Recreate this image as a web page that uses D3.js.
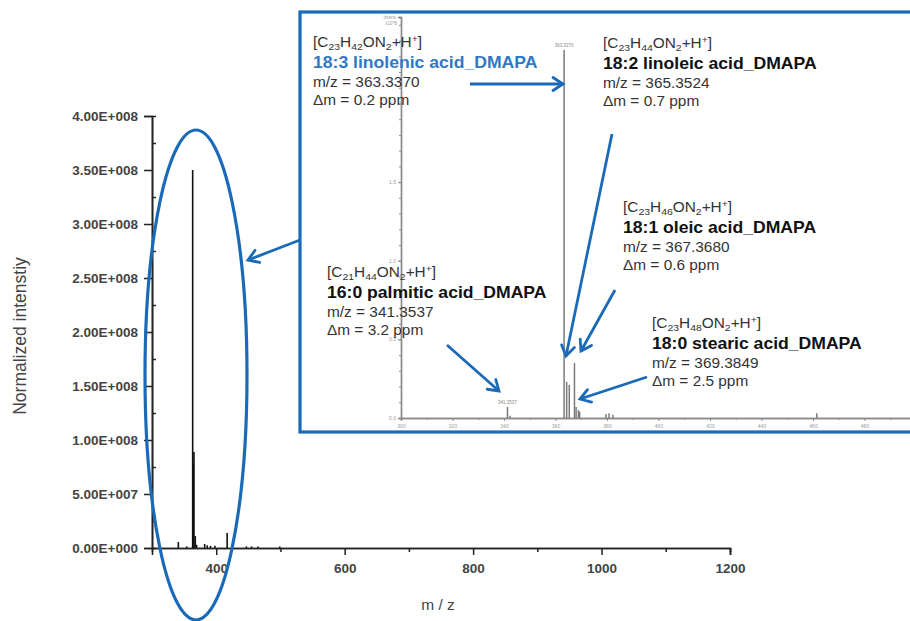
<!DOCTYPE html>
<html><head><meta charset="utf-8">
<script src="https://cdn.jsdelivr.net/npm/d3@7"></script>
<style>
html,body{margin:0;padding:0;background:#fff;}
svg{display:block;font-family:"Liberation Sans",Arial,sans-serif;}
</style></head>
<body><svg id="chart" width="910" height="621"></svg>
<script>
// ---------- data ----------
const mainMz = [341, 354, 363.34, 364.34, 365.35, 367.37, 369.38, 382, 386, 391, 398, 417, 447, 455, 465, 499];
const mainIntensity = [5.5e6, 1.5e6, 3.5e8, 7.8e7, 8.9e7, 1.1e7, 3e6, 3.7e6, 2.5e6, 2e6, 2e6, 1.4e7, 1.5e6, 1.5e6, 1.5e6, 1.5e6];
const mainXTicks = [400, 600, 800, 1000, 1200];
const mainXMinor = [500, 700, 900, 1100];
const mainYTicks = [0, 5e7, 1e8, 1.5e8, 2e8, 2.5e8, 3e8, 3.5e8, 4e8];
const mainYTickLabels = ["0.00E+000","5.00E+007","1.00E+008","1.50E+008","2.00E+008","2.50E+008","3.00E+008","3.50E+008","4.00E+008"];
const mainYMinor = [2.5e7, 7.5e7, 1.25e8, 1.75e8, 2.25e8, 2.75e8, 3.25e8, 3.75e8];

const insetMz = [341.35, 342.36, 363.34, 364.34, 365.35, 367.37, 368.0, 368.9, 369.38, 379.6, 380.8, 382.3, 461.5];
const insetIntensity = [0.07, 0.015, 2.34, 0.23, 0.21, 0.35, 0.07, 0.05, 0.04, 0.025, 0.03, 0.02, 0.03];
const insetXTicks = [300, 320, 340, 360, 380, 400, 420, 440, 460, 480];
const insetYTicks = [0, 0.5, 1.0, 1.5, 2.0];
const insetYTickLabels = ["0.0", "0.5", "1.0", "1.5", ""];
const peakLabels = [{mz: 363.34, v: 2.34, t: "363.3370"}, {mz: 341.35, v: 0.07, t: "341.3537"}];

const annotations = [
  {sub: ["23","42"], name: "18:3 linolenic acid_DMAPA", mz: "m/z = 363.3370", dm: "\u0394m = 0.2 ppm", blue: true, x: 313, y: 47},
  {sub: ["23","44"], name: "18:2 linoleic acid_DMAPA", mz: "m/z = 365.3524", dm: "\u0394m = 0.7 ppm", blue: false, x: 603, y: 48},
  {sub: ["23","46"], name: "18:1 oleic acid_DMAPA", mz: "m/z = 367.3680", dm: "\u0394m = 0.6 ppm", blue: false, x: 623, y: 212},
  {sub: ["21","44"], name: "16:0 palmitic acid_DMAPA", mz: "m/z = 341.3537", dm: "\u0394m = 3.2 ppm", blue: false, x: 327, y: 277},
  {sub: ["23","48"], name: "18:0 stearic acid_DMAPA", mz: "m/z = 369.3849", dm: "\u0394m = 2.5 ppm", blue: false, x: 652, y: 328}
];
const arrows = [
  [470, 84, 563, 84],
  [612, 134, 566, 356],
  [615, 290, 581, 351],
  [647, 377, 580, 399],
  [447, 345, 499, 391],
  [300, 240, 248, 260]
];

// ---------- setup ----------
const svg = d3.select("#chart");
const BLUE = "#1b6ab8";

// main scales
const x = d3.scaleLinear().domain([300, 1200]).range([152, 730]);
const y = d3.scaleLinear().domain([0, 4e8]).range([548, 116]);

// main bars
svg.append("g").selectAll("line").data(mainMz).join("line")
  .attr("x1", d => x(d)).attr("x2", d => x(d))
  .attr("y1", y(0)).attr("y2", (d, i) => y(mainIntensity[i]))
  .attr("stroke", "#111").attr("stroke-width", 1.6);

// main axes
svg.append("g").attr("transform", `translate(${x(300)},0)`)
  .call(d3.axisLeft(y).tickValues(mainYTicks).tickSize(8).tickPadding(6)
    .tickFormat((d, i) => mainYTickLabels[i]));
svg.append("g").attr("transform", `translate(${x(300)},0)`)
  .call(d3.axisRight(y).tickValues(mainYMinor).tickSize(4).tickFormat(""));
svg.append("g").attr("transform", `translate(0,${y(0)})`)
  .call(d3.axisBottom(x).tickValues(mainXTicks).tickSize(7).tickPadding(8).tickFormat(d3.format("d")));
svg.append("g").attr("transform", `translate(0,${y(0)})`)
  .call(d3.axisBottom(x).tickValues(mainXMinor).tickSize(4).tickFormat(""));
svg.selectAll(".domain").attr("stroke", "#222").attr("stroke-width", 1.6);
svg.selectAll(".tick line").attr("stroke", "#222").attr("stroke-width", 1.5);
svg.selectAll(".tick text").attr("font-family", "Liberation Sans, Arial, sans-serif")
  .attr("font-size", 13.5).attr("font-weight", "bold").attr("fill", "#444");

svg.append("text").attr("transform", "translate(26,336) rotate(-90)")
  .attr("text-anchor", "middle").attr("font-size", 17.5).attr("fill", "#444")
  .text("Normalized intenstiy");
svg.append("text").attr("x", 438).attr("y", 610).attr("text-anchor", "middle")
  .attr("font-size", 15.5).attr("fill", "#444").text("m / z");

// ellipse
svg.append("ellipse").attr("cx", 196).attr("cy", 375).attr("rx", 51).attr("ry", 245)
  .attr("fill", "none").attr("stroke", BLUE).attr("stroke-width", 3.2);

// ---------- inset ----------
svg.append("rect").attr("x", 300).attr("y", 12).attr("width", 640).attr("height", 420)
  .attr("fill", "#fff").attr("stroke", BLUE).attr("stroke-width", 3.2);

const ix = d3.scaleLinear().domain([300, 500]).range([401, 916]);
const iy = d3.scaleLinear().domain([0, 2.55]).range([418, 17]);
const inset = svg.append("g");
const GRAY = "#8a8a8a";

// inset axes
inset.append("g").attr("transform", `translate(0,${iy(0)})`)
  .call(d3.axisBottom(ix).tickValues(insetXTicks).tickSize(3).tickPadding(3).tickFormat(d => d));
inset.append("g").attr("transform", `translate(0,${iy(0)})`)
  .call(d3.axisBottom(ix).tickValues(d3.range(310, 500, 20)).tickSize(2).tickFormat(""));
inset.append("g").attr("transform", `translate(${ix(300)},0)`)
  .call(d3.axisLeft(iy).tickValues(insetYTicks).tickSize(3).tickPadding(2)
    .tickFormat((d, i) => insetYTickLabels[i]));
inset.append("g").attr("transform", `translate(${ix(300)},0)`)
  .call(d3.axisLeft(iy).tickValues(d3.range(0.1, 2.55, 0.1)).tickSize(2).tickFormat(""));
inset.selectAll(".domain").attr("stroke", GRAY).attr("stroke-width", 1.4);
inset.selectAll(".tick line").attr("stroke", GRAY).attr("stroke-width", 1);
inset.selectAll(".tick text").attr("font-size", 5).attr("fill", "#999").attr("font-weight", "normal");
inset.append("text").attr("x", 397).attr("y", 19).attr("text-anchor", "end")
  .attr("font-size", 4.5).attr("fill", "#999").text("Intens.");
inset.append("text").attr("x", 397).attr("y", 25).attr("text-anchor", "end")
  .attr("font-size", 4.5).attr("fill", "#999").text("x10^8");

// inset bars
inset.append("g").selectAll("line").data(insetMz).join("line")
  .attr("x1", d => ix(d)).attr("x2", d => ix(d))
  .attr("y1", iy(0)).attr("y2", (d, i) => iy(insetIntensity[i]))
  .attr("stroke", "#7a7a7a").attr("stroke-width", 1.5);
inset.append("g").selectAll("text").data(peakLabels).join("text")
  .attr("x", d => ix(d.mz)).attr("y", d => iy(d.v) - 3).attr("text-anchor", "middle")
  .attr("font-size", 4.5).attr("fill", "#888").text(d => d.t);

// annotations
const offs = [0, 21, 40, 58];
annotations.forEach(a => {
  const g = svg.append("g").attr("transform", `translate(${a.x},${a.y}) scale(1.1,1)`);
  const t0 = g.append("text").attr("y", offs[0]).attr("font-size", 14).attr("fill", "#333");
  t0.append("tspan").text("[C");
  t0.append("tspan").attr("font-size", 9.5).attr("dy", 3).text(a.sub[0]);
  t0.append("tspan").attr("dy", -3).text("H");
  t0.append("tspan").attr("font-size", 9.5).attr("dy", 3).text(a.sub[1]);
  t0.append("tspan").attr("dy", -3).text("ON");
  t0.append("tspan").attr("font-size", 9.5).attr("dy", 3).text("2");
  t0.append("tspan").attr("dy", -3).text("+H");
  t0.append("tspan").attr("font-size", 9.5).attr("dy", -5).text("+");
  t0.append("tspan").attr("dy", 5).text("]");
  g.append("text").attr("y", offs[1]).attr("font-size", 16).attr("font-weight", "bold")
    .attr("fill", a.blue ? "#2f78c4" : "#111").text(a.name);
  g.append("text").attr("y", offs[2]).attr("font-size", 14).attr("fill", "#333").text(a.mz);
  g.append("text").attr("y", offs[3]).attr("font-size", 14).attr("fill", "#333").text(a.dm);
});

// arrows
const ag = svg.append("g");
arrows.forEach(([x1, y1, x2, y2]) => {
  ag.append("line").attr("x1", x1).attr("y1", y1).attr("x2", x2).attr("y2", y2)
    .attr("stroke", BLUE).attr("stroke-width", 2.8);
  const ang = Math.atan2(y2 - y1, x2 - x1) * 180 / Math.PI;
  ag.append("path").attr("d", "M-10,-6.5 L0,0 L-10,6.5")
    .attr("transform", `translate(${x2},${y2}) rotate(${ang})`)
    .attr("fill", "none").attr("stroke", BLUE).attr("stroke-width", 2.8)
    .attr("stroke-linejoin", "miter").attr("stroke-linecap", "round");
});
</script></body></html>
